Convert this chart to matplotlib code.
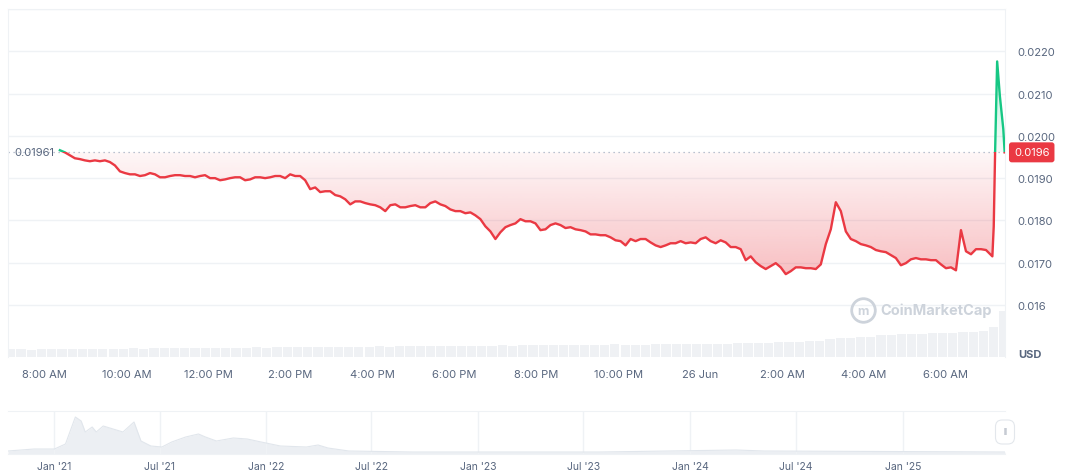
import numpy as np
import pandas as pd
import matplotlib
matplotlib.use('Agg')
import matplotlib.pyplot as plt
import matplotlib.dates as mdates
from matplotlib.patches import Rectangle

plt.rcParams['font.family'] = ['Inter', 'DejaVu Sans']

# price, 25 Jun 08:22 -> 26 Jun 07:26 (USD)
price_main = [
    0.01966, 0.01961, 0.01954, 0.01947, 0.01945, 0.01942, 0.01940, 0.01942, 0.01940, 0.01942,
    0.01938, 0.01930, 0.01916, 0.01912, 0.01909, 0.01909, 0.01905, 0.01907, 0.01912, 0.01909,
    0.01902, 0.01902, 0.01905, 0.01907, 0.01907, 0.01905, 0.01905, 0.01902, 0.01905, 0.01907,
    0.01900, 0.01900, 0.01895, 0.01897, 0.01900, 0.01902, 0.01902, 0.01895, 0.01897, 0.01902,
    0.01902, 0.01900, 0.01902, 0.01905, 0.01905, 0.01900, 0.01909, 0.01905, 0.01905, 0.01895,
    0.01874, 0.01878, 0.01867, 0.01869, 0.01869, 0.01860, 0.01857, 0.01850, 0.01838, 0.01845,
    0.01845, 0.01841, 0.01838, 0.01836, 0.01831, 0.01822, 0.01836, 0.01838, 0.01831, 0.01831,
    0.01834, 0.01836, 0.01831, 0.01831, 0.01841, 0.01845, 0.01838, 0.01834, 0.01826, 0.01822,
    0.01822, 0.01817, 0.01819, 0.01812, 0.01803, 0.01786, 0.01774, 0.01756, 0.01772, 0.01784,
    0.01789, 0.01793, 0.01803, 0.01798, 0.01798, 0.01793, 0.01777, 0.01779, 0.01789, 0.01793,
    0.01789, 0.01782, 0.01784, 0.01779, 0.01777, 0.01774, 0.01767, 0.01767, 0.01765, 0.01765,
    0.01760, 0.01753, 0.01751, 0.01741, 0.01756, 0.01751, 0.01756, 0.01756, 0.01748, 0.01741,
    0.01737, 0.01741, 0.01746, 0.01746, 0.01751, 0.01746, 0.01748, 0.01746, 0.01756, 0.01760,
    0.01751, 0.01746, 0.01753, 0.01748, 0.01737, 0.01737, 0.01732, 0.01706, 0.01715, 0.01701,
    0.01692, 0.01685, 0.01692, 0.01699, 0.01689, 0.01673, 0.01680, 0.01689, 0.01689, 0.01687,
    0.01687, 0.01685, 0.01696, 0.01744, 0.01779, 0.01843, 0.01822, 0.01774, 0.01756, 0.01751,
    0.01744, 0.01741, 0.01737, 0.01730, 0.01727, 0.01725, 0.01718, 0.01711, 0.01694, 0.01699,
    0.01708, 0.01711, 0.01708, 0.01708, 0.01706, 0.01706, 0.01696, 0.01687, 0.01689, 0.01682,
    0.01777, 0.01727, 0.01720, 0.01732, 0.01732, 0.01730, 0.01718,
]
tail_times = ['2025-06-26 07:08', '2025-06-26 07:10', '2025-06-26 07:12', '2025-06-26 07:15',
              '2025-06-26 07:19', '2025-06-26 07:24', '2025-06-26 07:26']
tail_price = [0.01715, 0.01786, 0.01961, 0.02176, 0.02094, 0.02016, 0.01961]

open_price = 0.01961
last_price = 0.0196

# 15 min volume (relative)
volume = [
    8, 8, 7, 8, 8, 8, 8, 8, 8, 8, 8, 8, 9, 8, 9,
    9, 9, 9, 9, 9, 9, 9, 9, 9, 10, 9, 10, 10, 10, 10,
    10, 10, 10, 10, 10, 10, 11, 10, 11, 11, 11, 11, 11, 11, 11,
    11, 11, 11, 12, 11, 12, 12, 12, 12, 12, 12, 12, 12, 12, 13,
    12, 12, 12, 13, 13, 13, 13, 13, 13, 13, 13, 14, 14, 14, 14,
    15, 15, 15, 16, 16, 18, 19, 19, 20, 20,
    22, 22, 23, 23, 23, 24, 24, 24, 25, 25, 26, 30, 46,
]

y_ticks = [0.016, 0.017, 0.018, 0.019, 0.020, 0.021, 0.022]
y_labels = ['0.016', '0.0170', '0.0180', '0.0190', '0.0200', '0.0210', '0.0220']
x_labels = ['8:00 AM', '10:00 AM', '12:00 PM', '2:00 PM', '4:00 PM', '6:00 PM',
            '8:00 PM', '10:00 PM', '26 Jun', '2:00 AM', '4:00 AM', '6:00 AM']

# all-time overview (navigator)
nav_dates = ['2020-10-13', '2020-11-27', '2021-01-01', '2021-01-20', '2021-02-06', '2021-02-16',
             '2021-02-23', '2021-03-07', '2021-03-14', '2021-03-26', '2021-04-12', '2021-04-29',
             '2021-05-18', '2021-05-30', '2021-06-16', '2021-07-05', '2021-07-22', '2021-08-15',
             '2021-09-06', '2021-09-18', '2021-10-07', '2021-11-05', '2021-11-29', '2021-12-23',
             '2022-01-25', '2022-03-11', '2022-03-31', '2022-04-17', '2022-05-23', '2022-09-09',
             '2023-07-29', '2024-03-20', '2024-05-07', '2025-06-26']
nav_vals = [3, 5, 5, 10, 37, 33, 22, 27, 22, 28, 25, 22, 32, 13, 8, 7, 12, 17,
            20, 17, 13, 16, 15, 12, 8, 7, 9, 6, 3, 2, 2, 4, 3, 2]
nav_labels = ["Jan '21", "Jul '21", "Jan '22", "Jul '22", "Jan '23",
              "Jul '23", "Jan '24", "Jul '24", "Jan '25"]

RED = '#ea3943'
GREEN = '#16c784'
GRID = '#eff2f5'
TXT = '#58667e'
MARK = '#cdd3db'

times = list(pd.date_range('2025-06-25 08:22', periods=len(price_main), freq='440s')) + list(pd.to_datetime(tail_times))
t = mdates.date2num(times)
price = np.array(price_main + tail_price)

W, H = 1072, 477
fig = plt.figure(figsize=(W / 100, H / 100), dpi=100)
ax = fig.add_axes([8 / W, 1 - 358 / H, 997 / W, 348 / H])
axv = ax.twinx()
ax.set_zorder(axv.get_zorder() + 1)
ax.patch.set_visible(False)

xmin = mdates.date2num(pd.Timestamp('2025-06-25 07:06'))
xmax = mdates.date2num(pd.Timestamp('2025-06-26 07:26:30'))
ymin, ymax = 0.01477, 0.0230

# volume bars
vt = mdates.date2num(pd.date_range('2025-06-25 07:10', periods=len(volume), freq='15min'))
axv.bar(vt, volume, width=0.9 / 96, color='#eff1f4', linewidth=0)
axv.set_ylim(0, 348)
axv.set_yticks([])
for s in axv.spines.values():
    s.set_visible(False)

ax.set_xlim(xmin, xmax)
ax.set_ylim(ymin, ymax)

# grid
for g in y_ticks + [0.023]:
    ax.axhline(g, color=GRID, lw=1, zorder=0)

# gradient fills
red_poly = ax.fill_between(t, np.minimum(price, open_price), open_price, color='none', lw=0)
grad = np.zeros((100, 2, 4))
grad[:, :, :3] = matplotlib.colors.to_rgb(RED)
grad[:, :, 3] = np.linspace(0.32, 0.04, 100)[:, None]
im = ax.imshow(grad, extent=[xmin, xmax, 0.0167, open_price], aspect='auto', origin='lower',
               zorder=1, interpolation='bilinear')
im.set_clip_path(red_poly.get_paths()[0], transform=ax.transData)

green_poly = ax.fill_between(t, open_price, np.maximum(price, open_price), color='none', lw=0)
gg = np.zeros((100, 2, 4))
gg[:, :, :3] = matplotlib.colors.to_rgb(GREEN)
gg[:, :, 3] = np.linspace(0.05, 0.3, 100)[:, None]
im2 = ax.imshow(gg, extent=[xmin, xmax, open_price, 0.0218], aspect='auto', origin='lower',
                zorder=1, interpolation='bilinear')
im2.set_clip_path(green_poly.get_paths()[0], transform=ax.transData)
ax.set_xlim(xmin, xmax)
ax.set_ylim(ymin, ymax)

# baseline
ax.axhline(open_price, color='#a6b0c3', lw=0.9, ls=(0, (1, 3)), zorder=2)

# price line, red below open, green above
l1, = ax.plot(t, price, color=RED, lw=1.7, zorder=3, solid_joinstyle='round')
l2, = ax.plot(t, price, color=GREEN, lw=1.7, zorder=3, solid_joinstyle='round')
l1.set_clip_path(Rectangle((xmin, ymin), xmax - xmin, open_price - ymin, transform=ax.transData))
l2.set_clip_path(Rectangle((xmin, open_price), xmax - xmin, ymax - open_price, transform=ax.transData))

# axes styling
for side in ['left', 'right', 'top']:
    ax.spines[side].set_color(GRID)
ax.spines['bottom'].set_visible(False)
ax.yaxis.tick_right()
ax.set_yticks(y_ticks)
ax.set_yticklabels(y_labels)
ax.tick_params(axis='y', length=0, pad=9, labelsize=8, labelcolor=TXT)
xt = mdates.date2num(pd.date_range('2025-06-25 08:00', periods=len(x_labels), freq='2h'))
ax.set_xticks(xt)
ax.set_xticklabels(x_labels)
ax.tick_params(axis='x', length=0, pad=9, labelsize=8, labelcolor=TXT)

# price labels
trans = matplotlib.transforms.blended_transform_factory(ax.transAxes, ax.transData)
ax.text(0.006, open_price, '0.01961', transform=trans, fontsize=8, color=TXT,
        va='center', ha='left', zorder=4)
ax.text(1.009, open_price, f'{last_price:.4f}', transform=trans, fontsize=8, color='white',
        va='center', ha='left', zorder=5, clip_on=False,
        bbox=dict(boxstyle='round,pad=0.45,rounding_size=0.25', fc=RED, ec='none'))

fig.text(1030 / W, 1 - 355 / H, 'USD', fontsize=8, color=TXT, fontweight='bold', ha='center', va='center')

# watermark
ax.text(0.8755, 0.135, 'CoinMarketCap', transform=ax.transAxes, fontsize=10.5, color=MARK,
        fontweight='bold', ha='left', va='center', zorder=4)
ax.plot([0.8575], [0.135], transform=ax.transAxes, marker='o', ms=17, mfc='none', mec=MARK,
        mew=2, clip_on=False, zorder=4)
ax.text(0.8575, 0.132, 'm', transform=ax.transAxes, fontsize=9, color=MARK, fontweight='bold',
        ha='center', va='center', zorder=4)

# navigator
ax2 = fig.add_axes([8 / W, 1 - 455 / H, 997 / W, 43 / H])
nd = mdates.date2num(pd.to_datetime(nav_dates))
ax2.fill_between(nd, nav_vals, 0, color='#eceff3', lw=0)
ax2.plot(nd, nav_vals, color='#e1e6ec', lw=0.8)
ax2.set_xlim(mdates.date2num(pd.Timestamp('2020-10-13')), mdates.date2num(pd.Timestamp('2025-06-26')))
ax2.set_ylim(0, 43)
nt = mdates.date2num(pd.date_range('2021-01-01', periods=len(nav_labels), freq='6MS'))
ax2.set_xticks(nt)
ax2.set_xticklabels(nav_labels)
ax2.set_yticks([])
ax2.tick_params(axis='x', length=0, pad=5, labelsize=7.5, labelcolor=TXT)
ax2.grid(axis='x', color=GRID, lw=1)
for s in ax2.spines.values():
    s.set_color(GRID)
ax2.spines['left'].set_visible(False)
ax2.spines['right'].set_visible(False)

fig.text(1005 / W, 1 - 433 / H, 'll', fontsize=6, color='#8a94a6', ha='center', va='center',
         bbox=dict(boxstyle='round,pad=0.9,rounding_size=0.8', fc='white', ec='#e3e7ec', lw=0.8))

fig.savefig('out.png', dpi=100)
